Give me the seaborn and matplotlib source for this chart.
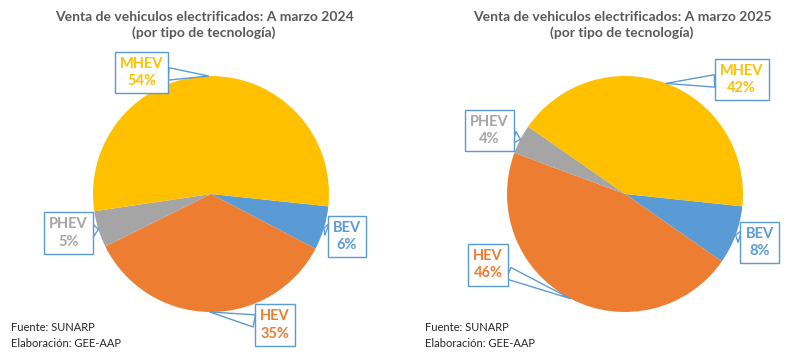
import numpy as np
import matplotlib
matplotlib.use('Agg')
import matplotlib.pyplot as plt
import seaborn as sns

sns.set_theme(style='white')
plt.rcParams['font.family'] = ['Lato', 'DejaVu Sans']

# datos
tecnologias = ['BEV', 'HEV', 'PHEV', 'MHEV']
ventas_2024 = [6, 35, 5, 54]
ventas_2025 = [8, 46, 4, 42]
colores = ['#5B9BD5', '#ED7D31', '#A5A5A5', '#FFC000']
titulo_2024 = 'Venta de vehiculos electrificados: A marzo 2024\n(por tipo de tecnología)'
titulo_2025 = 'Venta de vehiculos electrificados: A marzo 2025\n(por tipo de tecnología)'
nota = 'Fuente: SUNARP\nElaboración: GEE-AAP'

# posicion de las etiquetas (en radios desde el centro del pie)
pos_2024 = {'BEV': (1.15, -0.36), 'HEV': (0.54, -1.11),
            'PHEV': (-1.21, -0.33), 'MHEV': (-0.59, 1.03)}
pos_2025 = {'BEV': (1.14, -0.41), 'HEV': (-1.16, -0.60),
            'PHEV': (-1.15, 0.54), 'MHEV': (0.99, 0.97)}

W, H = 794, 358
fig = plt.figure(figsize=(W / 100, H / 100), dpi=100)
borde = '#5B9BD5'


def dibujar_pie(cx, cy, r, valores, titulo, pos, tx, nx):
    ax = fig.add_axes([(cx - r) / W, (H - cy - r) / H, 2 * r / W, 2 * r / H])
    wedges, _ = ax.pie(valores, colors=colores, startangle=-6, counterclock=False,
                       wedgeprops=dict(linewidth=0))
    ax.set_xlim(-1, 1)
    ax.set_ylim(-1, 1)
    for w, nombre, v, c in zip(wedges, tecnologias, valores, colores):
        ang = np.deg2rad((w.theta1 + w.theta2) / 2)
        ax.annotate(f'{nombre}\n{v}%', xy=(np.cos(ang), np.sin(ang)), xytext=pos[nombre],
                    ha='center', va='center', color=c, fontsize=10.5, fontweight='bold',
                    linespacing=1.3, annotation_clip=False,
                    bbox=dict(boxstyle='square,pad=0.35', fc='white', ec=borde, lw=1),
                    arrowprops=dict(arrowstyle='wedge,tail_width=0.85', fc='white', ec=borde,
                                    lw=1, shrinkA=0, shrinkB=0))
    fig.text(tx / W, 1 - 11 / H, titulo, ha='center', va='top', color='#595959',
             fontsize=10, fontweight='bold', linespacing=1.35)
    fig.text(nx / W, 1 - 335.5 / H, nota, ha='left', va='center', color='#262626',
             fontsize=8, linespacing=1.55)


dibujar_pie(211, 194, 118, ventas_2024, titulo_2024, pos_2024, 204, 11)
dibujar_pie(625, 194, 118, ventas_2025, titulo_2025, pos_2025, 622, 425)

fig.savefig('out.png', dpi=100)
